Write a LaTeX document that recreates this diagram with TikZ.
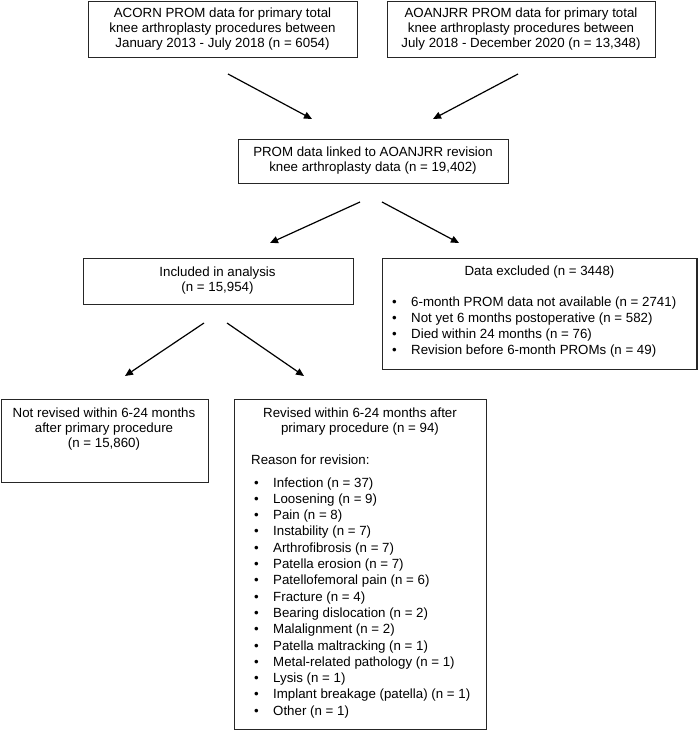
\documentclass[tikz,border=0pt]{standalone}
\usepackage{fontspec}
\setmainfont{Liberation Sans}
\usetikzlibrary{arrows.meta}
\newcommand{\blt}[1]{\makebox[19pt][l]{\textbullet}#1}
\begin{document}
\begin{tikzpicture}[x=1pt,y=-1pt,
  box/.style={draw=black!85, line width=1.2pt, inner sep=0pt, anchor=north west, rectangle},
  txt/.style={inner sep=0pt, anchor=base, font=\fontsize{13.3}{15}\selectfont},
  lst/.style={inner sep=0pt, anchor=base west, font=\fontsize{13.3}{16.3}\selectfont},
  arr/.style={line width=1.2pt, -{Triangle[length=8pt,width=7pt]}}]
\useasboundingbox (0,0) rectangle (697,730);
% boxes
\node[box, minimum width=269pt, minimum height=56.4pt] (A) at (88,0.6) {};
\node[box, minimum width=268pt, minimum height=56.4pt] (B) at (387,0.6) {};
\node[box, minimum width=270pt, minimum height=44pt] (C) at (238,139) {};
\node[box, minimum width=270pt, minimum height=46pt] (D) at (82.5,258) {};
\node[box, minimum width=314.4pt, minimum height=111pt] (E) at (382,258) {};
\node[box, minimum width=207.4pt, minimum height=83pt] (F) at (0.6,399) {};
\node[box, minimum width=252pt, minimum height=330.4pt] (G) at (234,399) {};
% texts
\node[txt] (At) at (222.5,18) {\parbox[t]{265pt}{\centering ACORN PROM data for primary total\\ knee arthroplasty procedures between\\ January 2013 - July 2018 (n = 6054)}};
\node[txt] (Bt) at (521,18) {\parbox[t]{265pt}{\centering AOANJRR PROM data for primary total\\ knee arthroplasty procedures between\\ July 2018 - December 2020 (n = 13,348)}};
\node[txt] (Ct) at (373,157) {\parbox[t]{265pt}{\centering PROM data linked to AOANJRR revision\\ knee arthroplasty data (n = 19,402)}};
\node[txt] (Dt) at (217.5,276) {\parbox[t]{265pt}{\centering Included in analysis\\ (n = 15,954)}};
\node[txt] (Et) at (539.5,275) {\parbox[t]{300pt}{\centering Data excluded (n = 3448)}};
\node[lst] (El) at (392,306) {\parbox[t]{300pt}{\raggedright
\blt{6-month PROM data not available (n = 2741)}\\
\blt{Not yet 6 months postoperative (n = 582)}\\
\blt{Died within 24 months (n = 76)}\\
\blt{Revision before 6-month PROMs (n = 49)}}};
\node[txt] (Ft) at (104,417) {\parbox[t]{205pt}{\centering Not revised within 6-24 months\\ after primary procedure\\ (n = 15,860)}};
\node[txt] (Gt) at (360,417) {\parbox[t]{250pt}{\centering Revised within 6-24 months after\\ primary procedure (n = 94)}};
\node[lst] (Gr) at (251,464) {Reason for revision:};
\node[lst] (Gl) at (254,487) {\parbox[t]{230pt}{\raggedright
\blt{Infection (n = 37)}\\
\blt{Loosening (n = 9)}\\
\blt{Pain (n = 8)}\\
\blt{Instability (n = 7)}\\
\blt{Arthrofibrosis (n = 7)}\\
\blt{Patella erosion (n = 7)}\\
\blt{Patellofemoral pain (n = 6)}\\
\blt{Fracture (n = 4)}\\
\blt{Bearing dislocation (n = 2)}\\
\blt{Malalignment (n = 2)}\\
\blt{Patella maltracking (n = 1)}\\
\blt{Metal-related pathology (n = 1)}\\
\blt{Lysis (n = 1)}\\
\blt{Implant breakage (patella) (n = 1)}\\
\blt{Other (n = 1)}}};
% arrow coordinates
\coordinate (a1s) at (228,74);  \coordinate (a1e) at (312,119);
\coordinate (a2s) at (518,74);  \coordinate (a2e) at (433,119);
\coordinate (c1s) at (360,202); \coordinate (c1e) at (270,243);
\coordinate (c2s) at (382,202); \coordinate (c2e) at (459,243);
\coordinate (d1s) at (204,323); \coordinate (d1e) at (125,376);
\coordinate (d2s) at (227,323); \coordinate (d2e) at (304,376);
\draw[arr] (a1s) -- (a1e);
\draw[arr] (a2s) -- (a2e);
\draw[arr] (c1s) -- (c1e);
\draw[arr] (c2s) -- (c2e);
\draw[arr] (d1s) -- (d1e);
\draw[arr] (d2s) -- (d2e);
\end{tikzpicture}
\end{document}
